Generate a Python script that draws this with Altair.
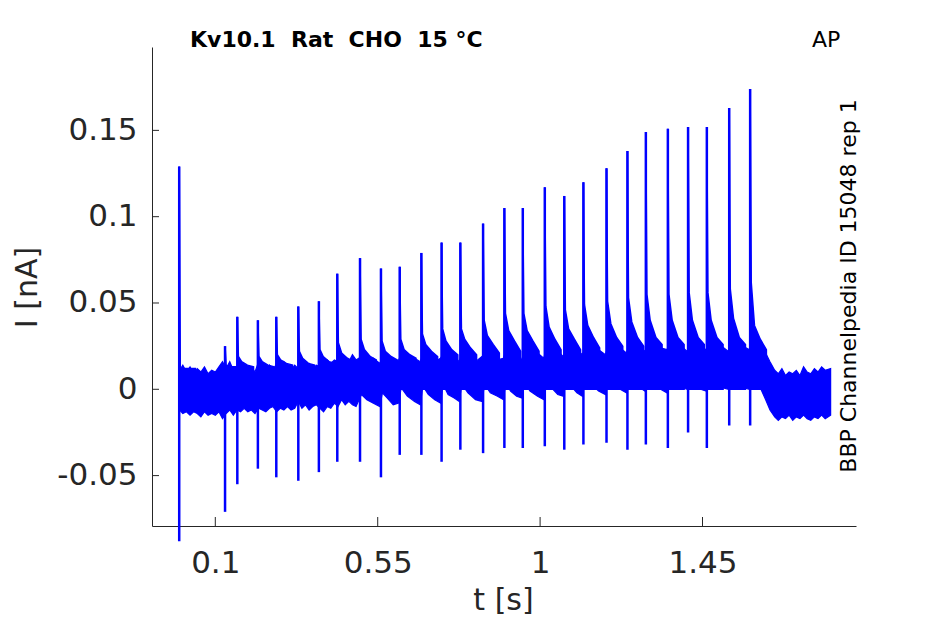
import altair as alt
import pandas as pd

# ---------------- data ----------------
title_text = "Kv10.1\u00a0\u00a0Rat\u00a0\u00a0CHO\u00a0\u00a015\u00a0°C"
corner_text = "AP"
side_text = "BBP Channelpedia ID 15048 rep 1"

x_ticks = [0.1, 0.55, 1, 1.45]
y_ticks = [-0.05, 0, 0.05, 0.1, 0.15]

spike_t = [0.000, 0.127, 0.161, 0.218, 0.269, 0.330, 0.387, 0.438,
           0.501, 0.559, 0.611, 0.671, 0.727, 0.779, 0.842, 0.901,
           0.952, 1.013, 1.067, 1.120, 1.184, 1.242, 1.293, 1.354,
           1.410, 1.462, 1.524, 1.582]
spike_peak = [0.129, 0.025, 0.042, 0.040, 0.042, 0.048, 0.051, 0.067,
              0.076, 0.070, 0.071, 0.079, 0.085, 0.085, 0.096, 0.105,
              0.105, 0.117, 0.112, 0.120, 0.128, 0.138, 0.149, 0.151,
              0.152, 0.152, 0.163, 0.174]
spike_trough = [-0.088, -0.071, -0.055, -0.046, -0.051, -0.053, -0.048, -0.042,
                -0.042, -0.051, -0.038, -0.038, -0.042, -0.035, -0.037, -0.034,
                -0.034, -0.033, -0.035, -0.032, -0.031, -0.035, -0.032, -0.034,
                -0.025, -0.034, -0.021, -0.021]

# decay tail after each spike: value 3, 12, 28 and 45 ms after the peak
tail_dt = [0.003, 0.012, 0.028, 0.045]
tail_a = [0.012, 0.014, 0.019, 0.019, 0.020, 0.022, 0.023, 0.027,
          0.029, 0.028, 0.029, 0.032, 0.035, 0.035, 0.040, 0.044,
          0.044, 0.048, 0.046, 0.049, 0.051, 0.053, 0.055, 0.055,
          0.056, 0.056, 0.058, 0.062]
tail_b = [0.012, 0.013, 0.016, 0.016, 0.017, 0.018, 0.019, 0.021,
          0.023, 0.022, 0.023, 0.026, 0.028, 0.029, 0.031, 0.034,
          0.034, 0.036, 0.035, 0.037, 0.038, 0.039, 0.040, 0.040,
          0.040, 0.040, 0.041, 0.037]
tail_c = [0.012, 0.013, 0.014, 0.014, 0.015, 0.015, 0.016, 0.018,
          0.019, 0.019, 0.020, 0.022, 0.023, 0.024, 0.026, 0.028,
          0.028, 0.029, 0.029, 0.030, 0.030, 0.030, 0.030, 0.030,
          0.030, 0.030, 0.030, 0.029]
tail_d = [0.012, 0.013, 0.013, 0.013, 0.014, 0.014, 0.015, 0.016,
          0.017, 0.017, 0.018, 0.019, 0.020, 0.020, 0.021, 0.022,
          0.022, 0.023, 0.023, 0.024, 0.025, 0.025, 0.026, 0.026,
          0.026, 0.026, 0.026, 0.023]

# noisy baseline band (upper / lower envelope)
band_t = [0.001, 0.010, 0.020, 0.030, 0.040, 0.050, 0.060, 0.070, 0.080, 0.090,
          0.100, 0.110, 0.120, 0.130, 0.140, 0.150, 0.160, 0.170, 0.180, 0.190,
          0.200, 0.210, 0.220, 0.230, 0.240, 0.250, 0.260, 0.270, 0.280, 0.290,
          0.300, 0.310, 0.320, 0.330, 0.340, 0.350, 0.360, 0.370, 0.380, 0.390,
          0.400, 0.410, 0.420, 0.430, 0.440, 0.450, 0.460, 0.470, 0.480, 0.490,
          0.505, 0.520, 0.538, 0.556,
          0.563, 0.576, 0.593, 0.608,
          0.615, 0.632, 0.652, 0.668,
          0.675, 0.690, 0.708, 0.724,
          0.731, 0.745, 0.762, 0.776,
          0.783, 0.800, 0.821, 0.839,
          0.846, 0.862, 0.882, 0.898,
          0.905, 0.918, 0.935, 0.949,
          0.956, 0.972, 0.993, 1.010,
          1.017, 1.031, 1.049, 1.064,
          1.071, 1.085, 1.102, 1.117,
          1.124, 1.141, 1.162, 1.181,
          1.188, 1.203, 1.222, 1.239,
          1.246, 1.259, 1.276, 1.290,
          1.297, 1.313, 1.334, 1.351,
          1.358, 1.372, 1.391, 1.407,
          1.414, 1.427, 1.445, 1.459,
          1.466, 1.482, 1.503, 1.521,
          1.528, 1.543, 1.562, 1.579,
          1.586, 1.600, 1.612, 1.625, 1.637, 1.650, 1.660, 1.670, 1.680, 1.690,
          1.700, 1.710, 1.720, 1.730, 1.740, 1.750, 1.760, 1.770, 1.780, 1.790,
          1.805]
band_hi = [0.011, 0.014, 0.010, 0.013, 0.009, 0.012, 0.010, 0.013, 0.009, 0.011,
           0.010, 0.013, 0.016, 0.012, 0.016, 0.011, 0.013, 0.010, 0.014, 0.011,
           0.013, 0.010, 0.016, 0.012, 0.011, 0.014, 0.011, 0.015, 0.012, 0.016,
           0.013, 0.011, 0.014, 0.012, 0.016, 0.013, 0.015, 0.012, 0.014, 0.013,
           0.014, 0.017, 0.015, 0.017, 0.016, 0.015, 0.018, 0.016, 0.020, 0.017,
           0.019, 0.016, 0.018, 0.015,
           0.019, 0.017, 0.015, 0.017,
           0.020, 0.016, 0.018, 0.016,
           0.020, 0.018, 0.016, 0.018,
           0.020, 0.017, 0.019, 0.016,
           0.021, 0.018, 0.016, 0.019,
           0.021, 0.019, 0.017, 0.018,
           0.022, 0.018, 0.020, 0.017,
           0.022, 0.019, 0.021, 0.018,
           0.023, 0.020, 0.022, 0.019,
           0.023, 0.021, 0.023, 0.020,
           0.024, 0.021, 0.023, 0.020,
           0.025, 0.022, 0.024, 0.021,
           0.025, 0.023, 0.025, 0.022,
           0.025, 0.022, 0.024, 0.023,
           0.025, 0.023, 0.025, 0.022,
           0.025, 0.022, 0.024, 0.023,
           0.025, 0.023, 0.025, 0.022,
           0.025, 0.024, 0.025, 0.023,
           0.026, 0.024, 0.024, 0.021, 0.016, 0.011, 0.009, 0.012, 0.008, 0.010,
           0.009, 0.011, 0.008, 0.013, 0.010, 0.009, 0.012, 0.010, 0.013, 0.011,
           0.012]
band_lo = [-0.012, -0.014, -0.013, -0.015, -0.013, -0.014, -0.016, -0.013, -0.015, -0.014,
           -0.015, -0.013, -0.017, -0.014, -0.012, -0.015, -0.012, -0.013, -0.011, -0.013,
           -0.012, -0.014, -0.011, -0.012, -0.013, -0.011, -0.010, -0.013, -0.011, -0.012,
           -0.010, -0.012, -0.011, -0.007, -0.011, -0.009, -0.012, -0.010, -0.009, -0.011,
           -0.013, -0.010, -0.011, -0.008, -0.010, -0.006, -0.009, -0.007, -0.009, -0.010,
           -0.003, -0.006, -0.008, -0.010,
           -0.002, -0.005, -0.009, -0.008,
           0.001, -0.004, -0.007, -0.009,
           0.002, -0.003, -0.006, -0.008,
           0.003, -0.003, -0.005, -0.007,
           0.003, -0.002, -0.006, -0.007,
           0.003, -0.002, -0.004, -0.006,
           0.004, -0.001, -0.004, -0.005,
           0.004, -0.001, -0.004, -0.006,
           0.005, 0.001, -0.003, -0.004,
           0.006, 0.002, -0.002, -0.004,
           0.007, 0.003, -0.001, -0.003,
           0.008, 0.004, 0.000, -0.002,
           0.009, 0.005, 0.001, -0.001,
           0.009, 0.004, 0.000, -0.002,
           0.009, 0.005, 0.001, 0.000,
           0.009, 0.004, 0.000, -0.001,
           0.009, 0.005, 0.001, 0.000,
           0.010, 0.005, 0.001, 0.000,
           0.008, 0.003, 0.000, -0.006, -0.012, -0.016, -0.018, -0.016, -0.017, -0.015,
           -0.018, -0.016, -0.017, -0.015, -0.017, -0.018, -0.016, -0.017, -0.015, -0.017,
           -0.015]

# ---------------- tables ----------------
band_df = pd.DataFrame({"t": band_t, "hi": band_hi, "lo": band_lo})
spike_df = pd.DataFrame({"t": spike_t, "peak": spike_peak, "trough": spike_trough})
tail_rows = []
for i, t0 in enumerate(spike_t):
    tail_rows.append({"id": i, "t": t0, "v": spike_peak[i]})
    for dt, v in zip(tail_dt, [tail_a[i], tail_b[i], tail_c[i], tail_d[i]]):
        tail_rows.append({"id": i, "t": t0 + dt, "v": v})
tail_df = pd.DataFrame(tail_rows)
xt_df = pd.DataFrame({"t": x_ticks})
yt_df = pd.DataFrame({"v": y_ticks})

BLUE = "#0000ff"
AX = "#262626"
FONT = "DejaVu Sans"

xs = alt.Scale(domain=[-0.0754, 1.8753], nice=False, zero=False)
ys = alt.Scale(domain=[-0.0792, 0.1983], nice=False, zero=False)

x_axis = alt.Axis(values=x_ticks, labelExpr="'' + datum.value", ticks=False, grid=False,
                  domainColor=AX, domainWidth=1, labelFont=FONT, labelFontSize=31,
                  labelColor=AX, labelBaseline="alphabetic", labelPadding=46,
                  labelFlush=False, labelOverlap=False,
                  title="t [s]", titleFont=FONT, titleFontSize=30, titleFontWeight="normal",
                  titleColor=AX, titleX=351, titleY=83, titleBaseline="alphabetic",
                  titleAlign="center")
y_axis = alt.Axis(values=y_ticks, labelExpr="'' + datum.value", ticks=False, grid=False,
                  domainColor=AX, domainWidth=1, labelFont=FONT, labelFontSize=31,
                  labelColor=AX, labelBaseline="middle", labelPadding=15,
                  labelFlush=False, labelOverlap=False,
                  title="I [nA]", titleFont=FONT, titleFontSize=30, titleFontWeight="normal",
                  titleColor=AX, titleAngle=270, titleX=-116, titleY=240,
                  titleBaseline="alphabetic", titleAlign="center")

X = lambda f: alt.X(f, scale=xs, axis=x_axis)
Y = lambda f: alt.Y(f, scale=ys, axis=y_axis)

band = alt.Chart(band_df).mark_area(color=BLUE, opacity=1, stroke=BLUE, strokeWidth=1.2).encode(
    x=X("t:Q"), y=Y("lo:Q"), y2="hi:Q",
)

tails = alt.Chart(tail_df).mark_area(color=BLUE, opacity=1, stroke=BLUE, strokeWidth=1.5).encode(
    x=X("t:Q"), y=Y("v:Q"), y2=alt.datum(0.0), detail="id:N",
)

spikes = alt.Chart(spike_df).mark_rule(color=BLUE, strokeWidth=2.5).encode(
    x=X("t:Q"), y=Y("trough:Q"), y2="peak:Q",
)

yticks = alt.Chart(yt_df).mark_rule(color=AX, strokeWidth=1).encode(
    y=Y("v:Q"), x=alt.value(0), x2=alt.value(7),
)
xticks = alt.Chart(xt_df).mark_rule(color=AX, strokeWidth=1).encode(
    x=X("t:Q"), y=alt.value(479), y2=alt.value(470),
)

title = alt.Chart(pd.DataFrame({"s": [title_text]})).mark_text(
    font=FONT, fontSize=22, fontWeight="bold", color="black", align="left", baseline="alphabetic"
).encode(x=alt.value(38), y=alt.value(0), text="s:N")

corner = alt.Chart(pd.DataFrame({"s": [corner_text]})).mark_text(
    font=FONT, fontSize=22, color="black", align="left", baseline="alphabetic"
).encode(x=alt.value(660), y=alt.value(0), text="s:N")

side = alt.Chart(pd.DataFrame({"s": [side_text]})).mark_text(
    font=FONT, fontSize=22, color="black", align="center", baseline="alphabetic", angle=270
).encode(x=alt.value(704), y=alt.value(239), text="s:N")

chart = alt.layer(band, tails, spikes, yticks, xticks, title, corner, side).properties(
    width=704, height=479,
    padding={"left": 144, "top": 39, "right": 81, "bottom": 90},
    autosize=alt.AutoSizeParams(type="none"),
).configure_view(strokeWidth=0)

chart.save("out.html", embed_options={"renderer": "svg", "actions": False})
